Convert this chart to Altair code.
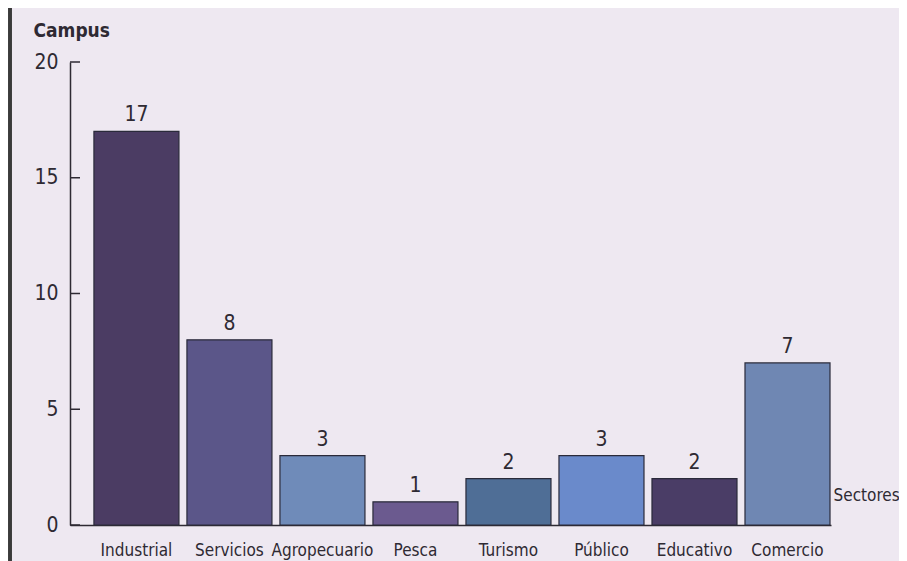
import altair as alt
import pandas as pd

sectores = ["Industrial", "Servicios", "Agropecuario", "Pesca", "Turismo", "Público", "Educativo", "Comercio"]
campus = [17, 8, 3, 1, 2, 3, 2, 7]
colores = ["#4b3c63", "#5b5689", "#6f8bb9", "#6b5a8f", "#4f6e96", "#6a8acb", "#4a3d66", "#6f87b3"]
ticks = [0, 5, 10, 15, 20]

df = pd.DataFrame({"Sector": sectores, "Campus": campus, "Color": colores})
tick_df = pd.DataFrame({"v": ticks})

FONT = "DejaVu Sans Condensed"
W, H = 761, 463
INK = "#2e2a33"

xs = alt.Scale(domain=sectores, paddingInner=0.086, paddingOuter=0.134, align=0.96)
ys = alt.Scale(domain=[0, 20], nice=False)

x = alt.X("Sector:N", sort=sectores, scale=xs,
          axis=alt.Axis(title="Sectores", labelAngle=0, ticks=False, labelPadding=30,
                        labelBaseline="alphabetic",
                        labelFontSize=17, labelFont=FONT, labelColor=INK,
                        domainColor=INK, domainWidth=1.5,
                        titleFont=FONT, titleFontSize=17, titleFontWeight="normal", titleColor=INK,
                        titleX=W + 2, titleY=-25, titleAlign="left", titleBaseline="alphabetic",
                        titleAngle=0))
y = alt.Y("Campus:Q", scale=ys,
          axis=alt.Axis(title="Campus", values=ticks, ticks=False, grid=False, labelPadding=12,
                        labelFontSize=21, labelFont=FONT, labelColor=INK,
                        domainColor=INK, domainWidth=1.5,
                        titleFont=FONT, titleFontSize=19, titleFontWeight="bold", titleColor=INK,
                        titleX=-37, titleY=-26, titleAlign="left", titleBaseline="alphabetic",
                        titleAngle=0))

bars = alt.Chart(df).mark_bar(stroke="#2a2a3a", strokeWidth=1.2).encode(
    x=x, y=y, color=alt.Color("Color:N", scale=None)
)
labels = alt.Chart(df).mark_text(font=FONT, fontSize=21, color=INK, baseline="bottom", dy=-6).encode(
    x=alt.X("Sector:N", sort=sectores, scale=xs), y=alt.Y("Campus:Q", scale=ys), text="Campus:Q"
)
inner_ticks = alt.Chart(tick_df).mark_rule(color=INK, strokeWidth=1.5).encode(
    x=alt.value(0), x2=alt.value(10), y=alt.Y("v:Q", scale=ys)
)
border = alt.Chart(tick_df).mark_rule(color="#3a3a3a", strokeWidth=3).encode(
    x=alt.value(-60), y=alt.value(-54), y2=alt.value(H + 36)
)

chart = alt.layer(bars, labels, inner_ticks, border).properties(
    width=W, height=H,
    autosize=alt.AutoSizeParams(type="none"),
    padding={"left": 62, "top": 54, "right": 68, "bottom": 36},
    background="#eee8f1",
).configure_view(stroke=None)

chart.save("out.html", embed_options={"renderer": "svg", "actions": False})
